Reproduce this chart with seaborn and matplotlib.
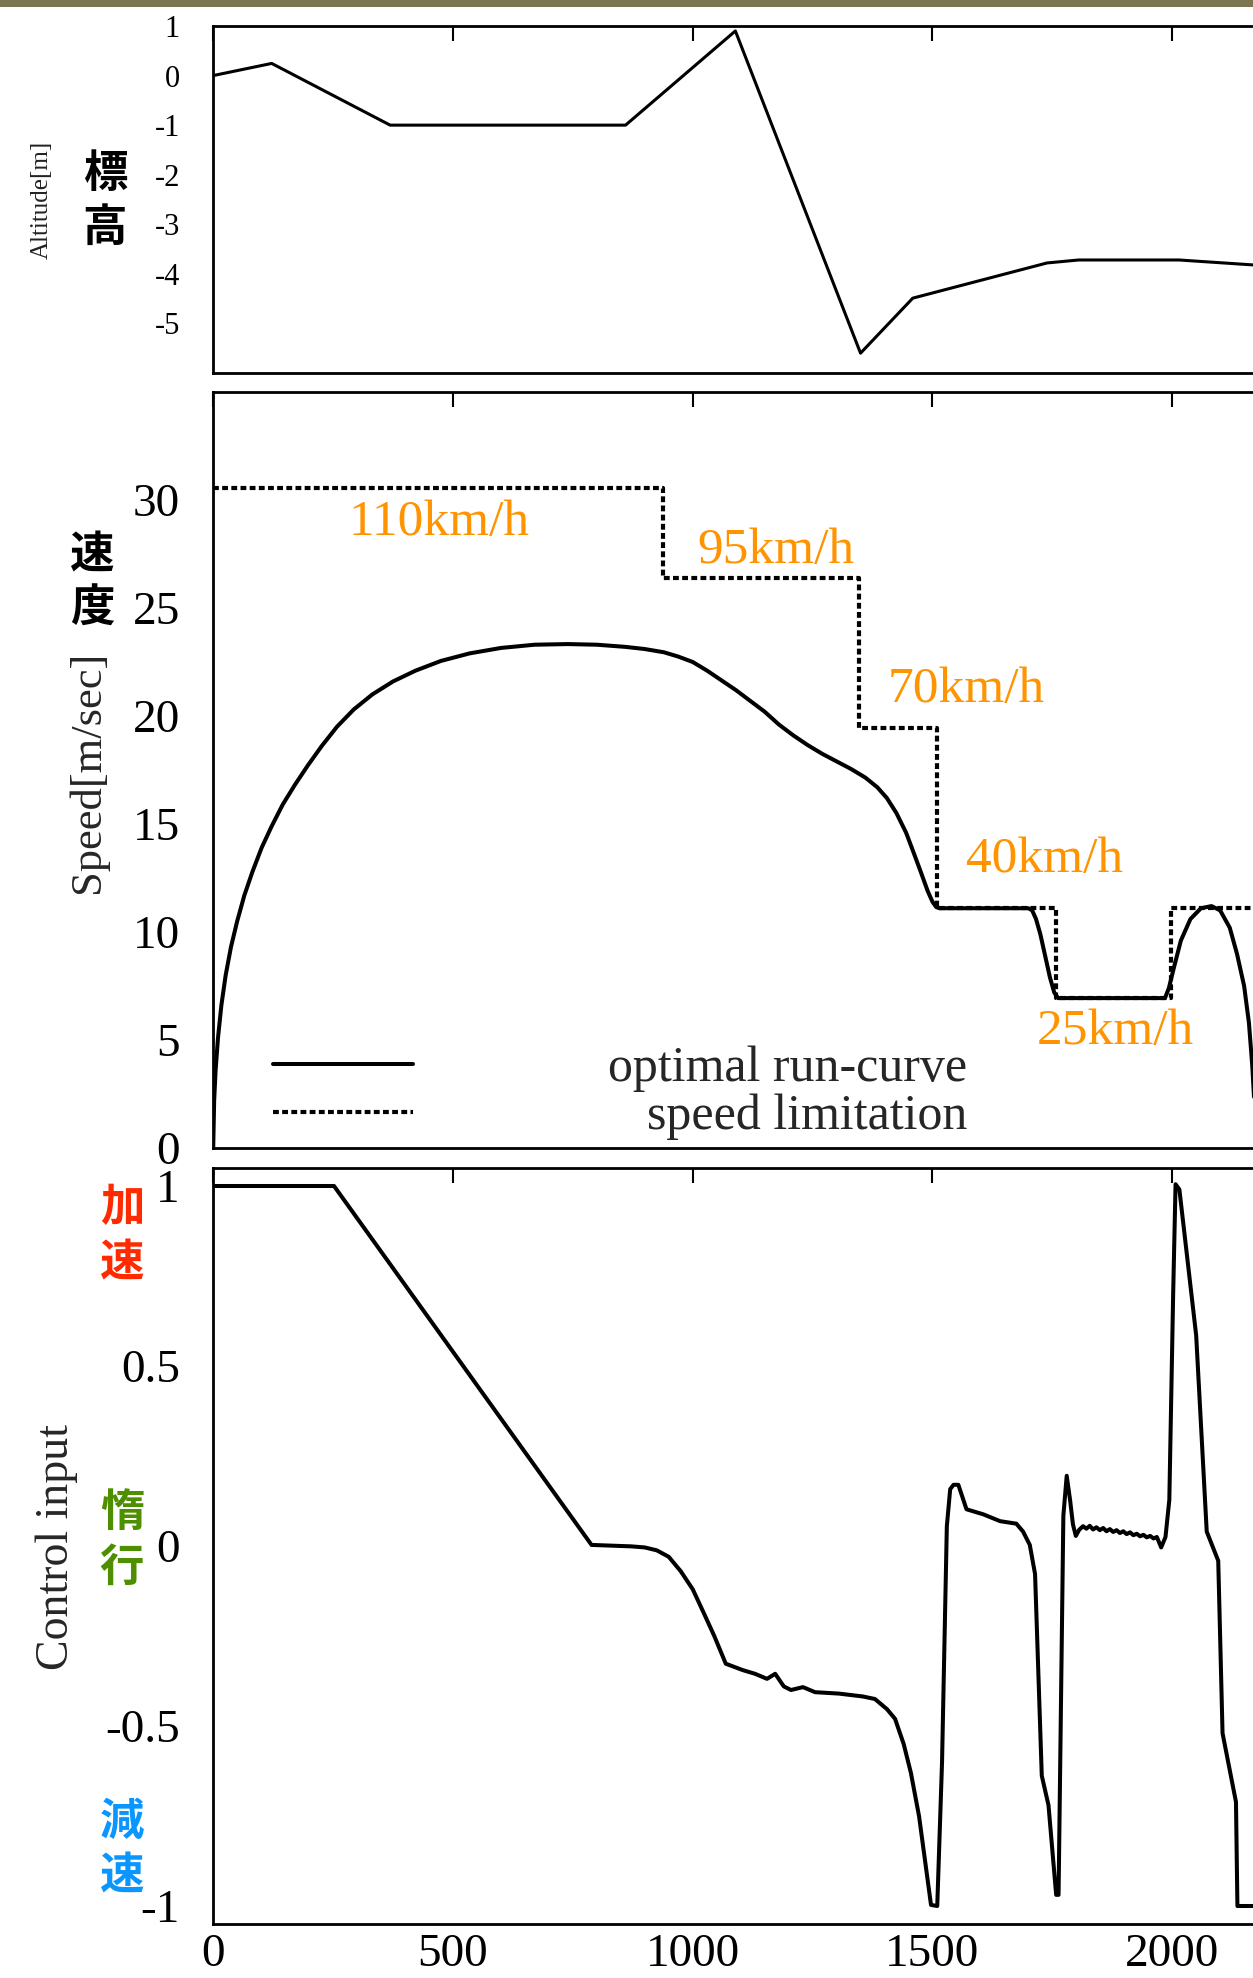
"""最適ランカーブ — 標高・速度・制御入力の3段グラフ"""

import matplotlib
matplotlib.use("Agg")
import matplotlib.pyplot as plt
import seaborn as sns
import pandas as pd
from matplotlib.patches import Rectangle

# ---- データ ----
# 標高 [m]
alt_x = [0, 122, 369, 860, 1089, 1350, 1459, 1739, 1805, 2014, 2169]
alt_y = [0.0, 0.245, -1.0, -1.0, 0.9, -5.6, -4.49, -3.78, -3.72, -3.72, -3.82]

# 最適ランカーブ [m/sec]
speed_x = [0, 2, 5, 10, 17, 26, 37, 50, 65, 82, 101, 122, 145, 170, 197, 226, 258,
           293, 332, 375, 422, 475, 535, 600, 670, 740, 800, 860, 900, 940, 970,
           1000, 1030, 1060, 1090, 1120, 1150, 1180, 1210, 1240, 1270, 1300, 1330,
           1360, 1385, 1405, 1425, 1445, 1462, 1477, 1490, 1500, 1508, 1515, 1600,
           1700, 1708, 1716, 1725, 1735, 1745, 1754, 1762, 1770, 1900, 1985, 1993,
           2003, 2018, 2038, 2060, 2082, 2100, 2120, 2135, 2150, 2160, 2167, 2172,
           2175]
speed_y = [0.0, 2.2, 3.6, 5.1, 6.6, 8.0, 9.3, 10.5, 11.7, 12.8, 13.9, 14.9, 15.9,
           16.8, 17.7, 18.6, 19.5, 20.3, 21.0, 21.6, 22.1, 22.55, 22.9, 23.15, 23.3,
           23.33, 23.3, 23.2, 23.1, 22.95, 22.75, 22.5, 22.1, 21.65, 21.2, 20.7,
           20.2, 19.6, 19.1, 18.65, 18.25, 17.9, 17.55, 17.15, 16.7, 16.2, 15.5,
           14.6, 13.6, 12.7, 11.9, 11.4, 11.15, 11.1, 11.1, 11.1, 11.0, 10.6, 9.9,
           8.9, 7.9, 7.2, 6.94, 6.94, 6.94, 6.94, 7.4, 8.3, 9.6, 10.6, 11.1, 11.2,
           11.0, 10.2, 9.0, 7.5, 5.8, 3.8, 1.8, 0.0]

# 制限速度 [km/h]（区間の始点）
limit_x = [0, 939, 1347, 1509, 1758, 1997, 2500]
limit_kmh = [110, 95, 70, 40, 25, 40, 40]
limit_text = ["110km/h", "95km/h", "70km/h", "40km/h", "25km/h"]
limit_text_x = [471, 1174, 1571, 1734, 1881]
limit_text_y = [28.95, 27.67, 21.2, 13.34, 5.37]

# 制御入力
ctrl_x = [0, 252, 789, 830, 872, 900, 925, 950, 975, 1000, 1022, 1045, 1069, 1085,
          1105, 1130, 1155, 1172, 1190, 1205, 1230, 1255, 1305, 1355, 1380, 1405,
          1422, 1440, 1455, 1472, 1497, 1510, 1520, 1530, 1537, 1544, 1554, 1571,
          1606, 1641, 1675, 1689, 1703, 1714, 1728, 1742, 1758, 1763, 1773, 1780,
          1787, 1793, 1799, 1806, 1814, 1821, 1828, 1835, 1842, 1849, 1856, 1863,
          1870, 1877, 1884, 1891, 1898, 1905, 1912, 1919, 1926, 1933, 1940, 1947,
          1954, 1961, 1968, 1977, 1986, 1994, 2002, 2007, 2015, 2050, 2072, 2096,
          2105, 2133, 2136, 2200]
ctrl_y = [1.0, 1.0, 0.003, 0.001, -0.001, -0.004, -0.012, -0.03, -0.07, -0.12,
          -0.183, -0.25, -0.327, -0.335, -0.345, -0.355, -0.369, -0.355, -0.39,
          -0.40, -0.392, -0.406, -0.41, -0.418, -0.425, -0.453, -0.48, -0.55,
          -0.63, -0.75, -0.997, -1.0, -0.6, 0.055, 0.158, 0.17, 0.17, 0.102, 0.088,
          0.069, 0.062, 0.04, 0.003, -0.078, -0.638, -0.72, -0.969, -0.969, 0.084,
          0.195, 0.128, 0.06, 0.028, 0.045, 0.055, 0.048, 0.056, 0.046, 0.052,
          0.044, 0.050, 0.041, 0.047, 0.039, 0.044, 0.036, 0.041, 0.033, 0.038,
          0.030, 0.034, 0.027, 0.031, 0.024, 0.028, 0.021, 0.025, -0.004, 0.025,
          0.128, 0.7, 1.005, 0.99, 0.585, 0.04, -0.041, -0.52, -0.711, -1.0, -1.0]

# ---- スタイル ----
sns.set_theme(style="white")
plt.rcParams["font.family"] = ["Liberation Serif", "Noto Sans CJK JP"]
plt.rcParams["axes.linewidth"] = 2
plt.rcParams["axes.edgecolor"] = "black"
plt.rcParams["axes.unicode_minus"] = False

W, H = 1253, 1978
PX_PER_M = 0.4795
LEFT = 213.2

fig = plt.figure(figsize=(W / 100, H / 100), dpi=100)


def add_panel(top, bottom):
    """ピクセル指定でパネルを追加（右端は画像の外へはみ出す）"""
    return fig.add_axes([LEFT / W, 1 - bottom / H, 2500 * PX_PER_M / W, (bottom - top) / H])


def style_ticks(ax, size):
    ax.tick_params(axis="both", direction="in", length=11, width=1.5,
                   top=True, right=False, labelsize=size, colors="black")
    ax.tick_params(axis="y", pad=24)
    ax.tick_params(axis="x", pad=7)
    ax.set_xticks([0, 500, 1000, 1500, 2000])
    ax.set_xlim(0, 2500)


# 上段：標高
ax1 = add_panel(26, 373)
alt_df = pd.DataFrame({"x": alt_x, "alt": alt_y})
sns.lineplot(data=alt_df, x="x", y="alt", color="black", linewidth=2.2, ax=ax1)
style_ticks(ax1, 22)
ax1.set_ylim(-6, 1)
ax1.set_yticks([1, 0, -1, -2, -3, -4, -5])
ax1.set_xticklabels([])
ax1.set_xlabel("")
ax1.set_ylabel("")

# 中段：速度
ax2 = add_panel(392, 1148)
speed_df = pd.DataFrame({"x": speed_x, "v": speed_y})
limit_df = pd.DataFrame({"x": limit_x, "v": [k / 3.6 for k in limit_kmh]})
sns.lineplot(data=limit_df, x="x", y="v", color="black", linewidth=3.0,
             drawstyle="steps-post", ax=ax2, label="speed limitation")
ax2.lines[-1].set_dashes((1.4, 0.8))
sns.lineplot(data=speed_df, x="x", y="v", color="black", linewidth=2.9, ax=ax2,
             label="optimal run-curve")
style_ticks(ax2, 34)
ax2.set_ylim(0, 35)
ax2.set_yticks([0, 5, 10, 15, 20, 25, 30])
ax2.set_xticklabels([])
ax2.set_xlabel("")
ax2.set_ylabel("")
for txt, tx, ty in zip(limit_text, limit_text_x, limit_text_y):
    ax2.text(tx, ty, txt, color="#ff9300", fontsize=37, ha="center", va="center")

handles, labels = ax2.get_legend_handles_labels()
leg = ax2.legend(handles[::-1], labels[::-1], loc="lower left",
                 bbox_to_anchor=(0.05, 0.01), frameon=False, fontsize=36,
                 handlelength=2.8, handletextpad=3.9, labelspacing=0.03,
                 borderpad=0, borderaxespad=0)

# 下段：制御入力
ax3 = add_panel(1168, 1924)
ctrl_df = pd.DataFrame({"x": ctrl_x, "u": ctrl_y})
sns.lineplot(data=ctrl_df, x="x", y="u", color="black", linewidth=2.9, ax=ax3,
             sort=False)
style_ticks(ax3, 34)
ax3.set_ylim(-1.05, 1.05)
ax3.set_yticks([-1, -0.5, 0, 0.5, 1])
ax3.set_yticklabels(["-1", "-0.5", "0", "0.5", "1"])
ax3.set_xlabel("")
ax3.set_ylabel("")

# 軸ラベル（英語）
fig.text(42 / W, 1 - 200 / H, "Altitude[m]", rotation=90, fontsize=18,
         color="#222222", ha="center", va="center")
fig.text(88 / W, 1 - 772 / H, "Speed[m/sec]", rotation=90, fontsize=32,
         ha="center", va="center")
fig.text(57 / W, 1 - 1547 / H, "Control input", rotation=90, fontsize=33,
         ha="center", va="center")


# 日本語ラベル（縦書き）
def vtext(chars, x, ys, color):
    for ch, y in zip(chars, ys):
        fig.text(x / W, 1 - y / H, ch, fontsize=32, color=color, weight="bold",
                 family="Noto Sans CJK JP", ha="center", va="center")


vtext("標高", 105, [174, 228], "black")
vtext("速度", 92, [555, 609], "black")
vtext("加速", 122, [1208, 1263], "#ff2a00")
vtext("惰行", 122, [1513, 1568], "#4e8f00")
vtext("減速", 122, [1822, 1876], "#0a96ff")

# スライド上端の帯
fig.patches.append(Rectangle((0, 1 - 7 / H), 1, 7 / H, transform=fig.transFigure,
                             facecolor="#7b7650", edgecolor="none"))

# 凡例の文字を右揃えにする
fig.canvas.draw()
texts = leg.get_texts()
widths = [t.get_window_extent().width for t in texts]
for t, w in zip(texts, widths):
    t.set_x(max(widths) - w)

fig.savefig("out.png", dpi=100)
